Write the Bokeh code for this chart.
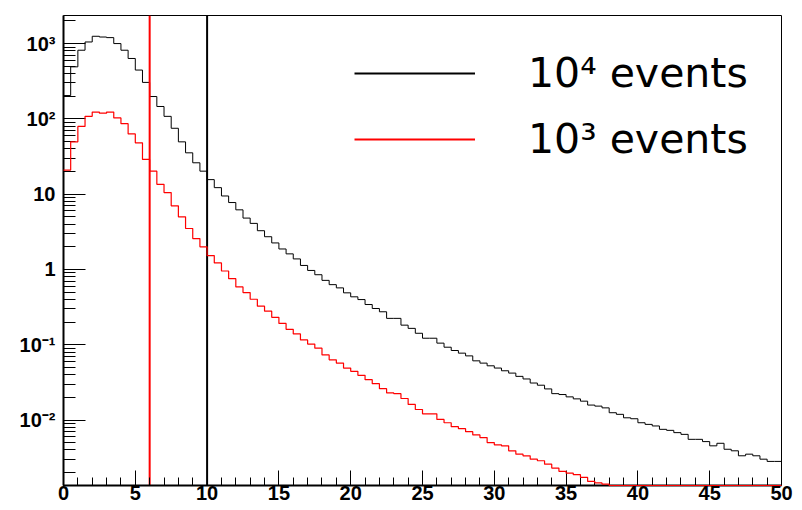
import numpy as np
from bokeh.plotting import figure
from bokeh.models import Range1d, FixedTicker, CustomJSTickFormatter, Legend, LegendItem
from bokeh.embed import file_html
from bokeh.resources import INLINE

# ---------------- data ----------------
BIN_LO = 0.0
BIN_W = 0.5

black_counts = [
    204, 491, 816, 1050, 1250, 1222, 1200, 1000, 816, 634,
    445, 305, 198, 146, 108, 75, 49.5, 35.4, 26.1, 20.2,
    15.6, 12.2, 9.46, 7.74, 6.19, 4.81, 4.09, 3.27, 2.72, 2.25,
    1.87, 1.61, 1.38, 1.13, 0.97, 0.851, 0.716, 0.628, 0.569, 0.489,
    0.433, 0.398, 0.342, 0.303, 0.274, 0.224, 0.224, 0.182, 0.165, 0.142,
    0.122, 0.122, 0.105, 0.0927, 0.0838, 0.0773, 0.0711, 0.0611, 0.057, 0.0525,
    0.049, 0.0451, 0.042, 0.038, 0.0351, 0.031, 0.029, 0.0259, 0.0224, 0.0218,
    0.0203, 0.0191, 0.0178, 0.0158, 0.0153, 0.0145, 0.0125, 0.0119, 0.0107, 0.0104,
    0.0092, 0.00875, 0.00834, 0.00752, 0.00729, 0.0068, 0.00645, 0.00554, 0.00554, 0.00517,
    0.00454, 0.00491, 0.00409, 0.0039, 0.00335, 0.00352, 0.00335, 0.00302, 0.00282, 0.00282,
]

red_counts = [
    20.9, 49.5, 79.4, 108, 123, 119, 123, 103, 86.2, 63,
    48, 28.9, 20.2, 13.5, 10.5, 7.0, 5.0, 3.5, 2.57, 2.0,
    1.53, 1.22, 0.953, 0.754, 0.586, 0.493, 0.402, 0.325, 0.279, 0.231,
    0.192, 0.16, 0.139, 0.116, 0.102, 0.090, 0.0733, 0.063, 0.057, 0.049,
    0.0443, 0.0392, 0.0343, 0.0304, 0.0261, 0.0229, 0.0224, 0.0193, 0.0161, 0.0138,
    0.0121, 0.0121, 0.0102, 0.0092, 0.00816, 0.00767, 0.00701, 0.00634, 0.00584, 0.00501,
    0.00468, 0.00454, 0.0039, 0.00352, 0.00335, 0.00302, 0.00288, 0.00259, 0.0023, 0.00208,
    0.00197, 0.00188, 0.00173, 0.00153, 0.00146, 0.00141, 0.00125, 0.0012, 0.00107, 0.00104,
    0.00092, 0.00088, 0.00083, 0.00075, 0.00073, 0.00068, 0.00065, 0.00055, 0.00055, 0.00052,
    0.00045, 0.00049, 0.00041, 0.00039, 0.00034, 0.00035, 0.00034, 0.0003, 0.00028, 0.00028,
]

X_MIN, X_MAX = 0, 50
Y_MIN, Y_MAX = 0.00135, 2360
CUT_RED = 6
CUT_BLACK = 10
X_TICKS = [0, 5, 10, 15, 20, 25, 30, 35, 40, 45, 50]
Y_DECADES = [-2, -1, 0, 1, 2, 3]
LEGEND_LABELS = ["10\u2074 events", "10\u00b3 events"]

# ---------------- derived ----------------
n = len(black_counts)
edges = BIN_LO + BIN_W * np.arange(n + 1)
yb = np.append(black_counts, black_counts[-1])
# ROOT draws values below the axis minimum at the bottom of the frame
yr = np.maximum(np.append(red_counts, red_counts[-1]), Y_MIN)

p = figure(width=794, height=502, y_axis_type="log",
           x_range=Range1d(X_MIN, X_MAX), y_range=Range1d(Y_MIN, Y_MAX),
           output_backend="svg", toolbar_location=None,
           min_border_left=63, min_border_right=13, min_border_top=15, min_border_bottom=14)

p.background_fill_color = "white"
p.border_fill_color = "white"
p.outline_line_color = "black"
p.outline_line_width = 1
p.xgrid.visible = False
p.ygrid.visible = False

p.step(edges, yb, mode="after", line_color="black", line_width=1)
p.step(edges, yr, mode="after", line_color="#ff0000", line_width=1.2, level="overlay")

cut_black = p.segment(x0=[CUT_BLACK], y0=[Y_MIN], x1=[CUT_BLACK], y1=[Y_MAX],
                      line_color="black", line_width=2)
cut_red = p.segment(x0=[CUT_RED], y0=[Y_MIN], x1=[CUT_RED], y1=[Y_MAX],
                    line_color="#ff0000", line_width=2)

# axes
p.xaxis.ticker = FixedTicker(ticks=X_TICKS, minor_ticks=list(range(X_MIN, X_MAX + 1)))
p.yaxis.ticker = FixedTicker(ticks=[10.0 ** e for e in Y_DECADES],
                             minor_ticks=[m * 10.0 ** e for e in range(-3, 4) for m in range(2, 10)])
p.yaxis.formatter = CustomJSTickFormatter(code="""
const e = Math.round(Math.log10(tick));
if (e == 0) return "1";
if (e == 1) return "10";
const sup = {"-": "\u207b", "0": "\u2070", "1": "\u00b9", "2": "\u00b2", "3": "\u00b3",
             "4": "\u2074", "5": "\u2075", "6": "\u2076", "7": "\u2077", "8": "\u2078", "9": "\u2079"};
return "10" + String(e).split("").map(c => sup[c]).join("");
""")

for ax in (p.xaxis[0], p.yaxis[0]):
    ax.axis_line_width = 2
    ax.axis_line_color = "black"
    ax.major_tick_out = 0
    ax.minor_tick_out = 0
    ax.major_tick_line_color = "black"
    ax.minor_tick_line_color = "black"
    ax.major_label_text_font = "Liberation Sans"
    ax.major_label_text_font_style = "bold"
    ax.major_label_text_font_size = "20px"
    ax.major_label_text_color = "black"

p.xaxis.major_tick_in = 15
p.xaxis.minor_tick_in = 8
p.xaxis.major_label_standoff = 0
p.yaxis.major_tick_in = 22
p.yaxis.minor_tick_in = 12
p.yaxis.major_label_standoff = 8

# legend: rows 48 px high, 66 px apart; placed from bottom-left of the frame
legend = Legend(items=[LegendItem(label=LEGEND_LABELS[0], renderers=[cut_black]),
                       LegendItem(label=LEGEND_LABELS[1], renderers=[cut_red])],
                location=(291, 322), orientation="vertical",
                glyph_width=121, glyph_height=48, label_height=48,
                label_standoff=53, spacing=18, padding=0, margin=0,
                border_line_alpha=0, background_fill_alpha=0,
                label_text_font="DejaVu Sans", label_text_font_size="41px",
                label_text_color="black")
p.add_layout(legend)

open("out.html", "w").write(file_html(p, INLINE))
